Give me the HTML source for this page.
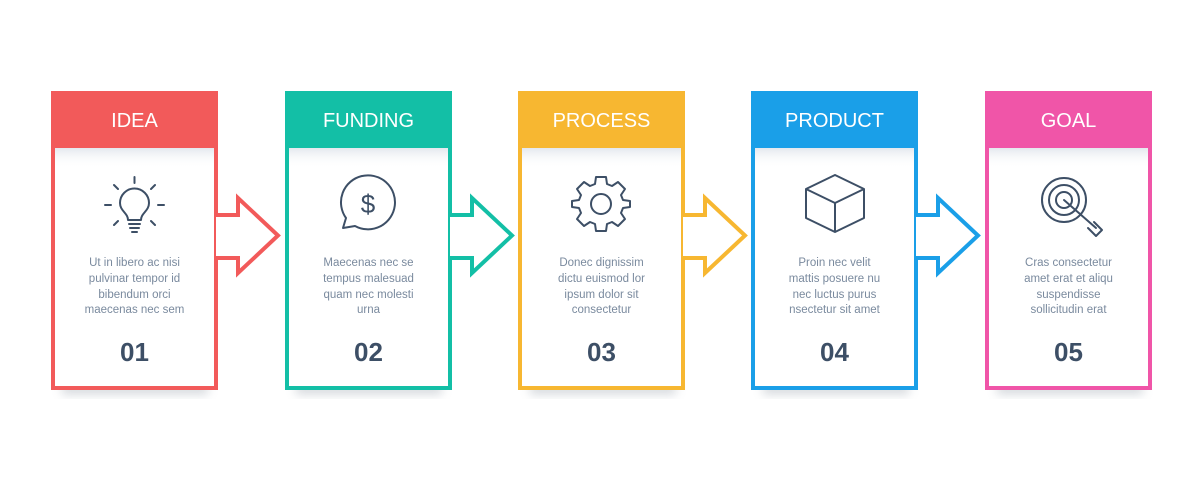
<!DOCTYPE html>
<html><head><meta charset="utf-8"><style>
html,body{margin:0;padding:0;background:#fff;width:1200px;height:480px;overflow:hidden}
svg text{font-family:"Liberation Sans",sans-serif}
</style></head><body>
<svg width="1200" height="480" viewBox="0 0 1200 480" xmlns="http://www.w3.org/2000/svg">
<defs>
<filter id="sh" x="-20%" y="-50%" width="140%" height="200%"><feGaussianBlur stdDeviation="5"/></filter>
<linearGradient id="ig" x1="0" y1="0" x2="0" y2="1"><stop offset="0" stop-color="#e4e8ee"/><stop offset="1" stop-color="#ffffff" stop-opacity="0"/></linearGradient>
</defs>
<g id="cards">
<!-- card template drawn via repeated groups -->
</g>
<g fill="none" stroke-linejoin="miter">
<!-- shadows -->
<rect x="62" y="384" width="146" height="10" fill="#9aa3ad" opacity=".45" filter="url(#sh)"/>
<rect x="296" y="384" width="146" height="10" fill="#9aa3ad" opacity=".45" filter="url(#sh)"/>
<rect x="530" y="384" width="146" height="10" fill="#9aa3ad" opacity=".45" filter="url(#sh)"/>
<rect x="763" y="384" width="146" height="10" fill="#9aa3ad" opacity=".45" filter="url(#sh)"/>
<rect x="997" y="384" width="146" height="10" fill="#9aa3ad" opacity=".45" filter="url(#sh)"/>
</g>

<!-- Card 1 -->
<g>
<rect x="51" y="91" width="167" height="299" fill="#fff"/>
<rect x="53" y="148" width="163" height="20" fill="url(#ig)"/>
<rect x="53" y="93" width="163" height="295" fill="none" stroke="#f25a5a" stroke-width="4"/>
<rect x="51" y="91" width="167" height="57" fill="#f25a5a"/>
<polyline points="216,215 238,215 238,198 278,235.5 238,273 238,258 216,258" fill="#fff" stroke="#f25a5a" stroke-width="4"/>
<text x="134.5" y="127" font-size="20" fill="#fff" text-anchor="middle">IDEA</text>
</g>
<!-- Card 2 -->
<g>
<rect x="285" y="91" width="167" height="299" fill="#fff"/>
<rect x="287" y="148" width="163" height="20" fill="url(#ig)"/>
<rect x="287" y="93" width="163" height="295" fill="none" stroke="#13bfa6" stroke-width="4"/>
<rect x="285" y="91" width="167" height="57" fill="#13bfa6"/>
<polyline points="450,215 472,215 472,198 512,235.5 472,273 472,258 450,258" fill="#fff" stroke="#13bfa6" stroke-width="4"/>
<text x="368.5" y="127" font-size="20" fill="#fff" text-anchor="middle">FUNDING</text>
</g>
<!-- Card 3 -->
<g>
<rect x="518" y="91" width="167" height="299" fill="#fff"/>
<rect x="520" y="148" width="163" height="20" fill="url(#ig)"/>
<rect x="520" y="93" width="163" height="295" fill="none" stroke="#f7b731" stroke-width="4"/>
<rect x="518" y="91" width="167" height="57" fill="#f7b731"/>
<polyline points="683,215 705,215 705,198 745,235.5 705,273 705,258 683,258" fill="#fff" stroke="#f7b731" stroke-width="4"/>
<text x="601.5" y="127" font-size="20" fill="#fff" text-anchor="middle">PROCESS</text>
</g>
<!-- Card 4 -->
<g>
<rect x="751" y="91" width="167" height="299" fill="#fff"/>
<rect x="753" y="148" width="163" height="20" fill="url(#ig)"/>
<rect x="753" y="93" width="163" height="295" fill="none" stroke="#1a9fe8" stroke-width="4"/>
<rect x="751" y="91" width="167" height="57" fill="#1a9fe8"/>
<polyline points="916,215 938,215 938,198 978,235.5 938,273 938,258 916,258" fill="#fff" stroke="#1a9fe8" stroke-width="4"/>
<text x="834.5" y="127" font-size="20" fill="#fff" text-anchor="middle">PRODUCT</text>
</g>
<!-- Card 5 -->
<g>
<rect x="985" y="91" width="167" height="299" fill="#fff"/>
<rect x="987" y="148" width="163" height="20" fill="url(#ig)"/>
<rect x="987" y="93" width="163" height="295" fill="none" stroke="#f055a8" stroke-width="4"/>
<rect x="985" y="91" width="167" height="57" fill="#f055a8"/>
<text x="1068.5" y="127" font-size="20" fill="#fff" text-anchor="middle">GOAL</text>
</g>

<!-- body text -->
<g font-size="11.5" fill="#7a8a9e" text-anchor="middle">
<text x="134.5" y="266">Ut in libero ac nisi</text><text x="134.5" y="282">pulvinar tempor id</text><text x="134.5" y="298">bibendum orci</text><text x="134.5" y="313">maecenas nec sem</text>
<text x="368.5" y="266">Maecenas nec se</text><text x="368.5" y="282">tempus malesuad</text><text x="368.5" y="298">quam nec molesti</text><text x="368.5" y="313">urna</text>
<text x="601.5" y="266">Donec dignissim</text><text x="601.5" y="282">dictu euismod lor</text><text x="601.5" y="298">ipsum dolor sit</text><text x="601.5" y="313">consectetur</text>
<text x="834.5" y="266">Proin nec velit</text><text x="834.5" y="282">mattis posuere nu</text><text x="834.5" y="298">nec luctus purus</text><text x="834.5" y="313">nsectetur sit amet</text>
<text x="1068.5" y="266">Cras consectetur</text><text x="1068.5" y="282">amet erat et aliqu</text><text x="1068.5" y="298">suspendisse</text><text x="1068.5" y="313">sollicitudin erat</text>
</g>
<g font-size="26" font-weight="bold" fill="#3d4f66" text-anchor="middle">
<text x="134.5" y="361">01</text><text x="368.5" y="361">02</text><text x="601.5" y="361">03</text><text x="834.5" y="361">04</text><text x="1068.5" y="361">05</text>
</g>

<!-- icons -->
<g fill="none" stroke="#3d4f66" stroke-width="2" stroke-linecap="round" stroke-linejoin="round">
<!-- bulb -->
<path d="M128,220 C128,213 120,211 120,203 A14.5,14.5 0 1 1 149,203 C149,211 141,213 141,220 Z"/>
<path d="M129,224 H140 M130,228 H139 M132,232 H137"/>
<path d="M134.5,177 V183 M105,205 H111 M158,205 H164 M114,185 L118,189 M155,185 L151,189 M114,225 L118,221 M155,225 L151,221"/>
<!-- dollar bubble -->
<path d="M343,228 L346,218 A27,27 0 1 1 355,226 Z"/>
<text x="368" y="213" font-size="26" fill="#3d4f66" stroke="none" text-anchor="middle">$</text>
<!-- gear -->
<circle cx="601" cy="204" r="10"/>
<path d="M596,177 H606 L607,184 L612,186 L618,182 L625,189 L621,195 L623,200 L630,201 V207 L623,208 L621,213 L625,219 L618,226 L612,222 L607,224 L606,231 H596 L595,224 L590,222 L584,226 L577,219 L581,213 L579,208 L572,207 V201 L579,200 L581,195 L577,189 L584,182 L590,186 L595,184 Z"/>
<!-- cube -->
<path d="M835,175 L864,189 V218 L835,232 L806,218 V189 Z M806,189 L835,203 L864,189 M835,203 V232"/>
<!-- target -->
<circle cx="1064" cy="200" r="22"/><circle cx="1064" cy="200" r="15"/><circle cx="1064" cy="200" r="8"/>
<path d="M1064,200 L1096,228 M1088,228 L1096,236 L1102,230 L1094,222"/>
</g>
</svg>
</body></html>
